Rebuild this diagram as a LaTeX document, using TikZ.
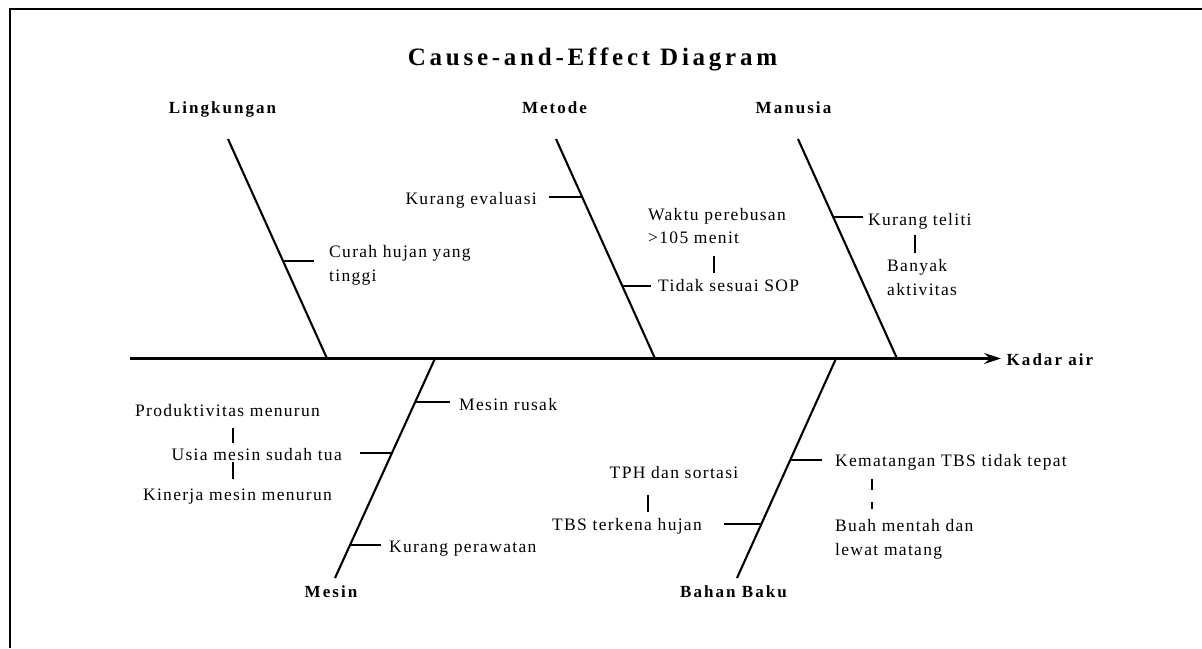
\documentclass[tikz,border=0pt]{standalone}
\usepackage{fontspec}
\setmainfont{Liberation Serif}
\newfontfamily\causefont[LetterSpace=7.5]{Liberation Serif}
\newfontfamily\labelfont[LetterSpace=12]{Liberation Serif}
\newfontfamily\titlefont[LetterSpace=15]{Liberation Serif}
\usetikzlibrary{arrows.meta,calc}

\begin{document}
\begin{tikzpicture}[x=1pt,y=-1pt,
  bone/.style={line width=2.1pt},
  tick/.style={line width=1.9pt},
  link/.style={line width=1.9pt},
  cause/.style={inner sep=0pt, font=\causefont\fontsize{17.5}{23.5}\selectfont},
  cat/.style={inner sep=0pt, font=\labelfont\bfseries\fontsize{17}{20}\selectfont},
  heading/.style={inner sep=0pt, font=\titlefont\bfseries\fontsize{25}{28}\selectfont},
]
\useasboundingbox (0,0) rectangle (1202,648);
% frame
\draw[line width=1.5pt] (10,648) -- (10,9) -- (1202,9);

% title and category labels
\node[heading, anchor=base] (title) at (592.5,65) {Cause-and-Effect Diagram};
\node[cat, anchor=base] (lingkungan) at (222.5,113) {Lingkungan};
\node[cat, anchor=base] (metode) at (554.5,113) {Metode};
\node[cat, anchor=base] (manusia) at (793.5,113) {Manusia};
\node[cat, anchor=base] (mesin) at (331,597.5) {Mesin};
\node[cat, anchor=base] (bahanbaku) at (733.5,597.5) {Bahan Baku};
\node[cat, anchor=base west] (kadar) at (1006.5,365.5) {Kadar air};

% spine
\coordinate (tail) at (130,358.5);
\coordinate (head) at (1001,358.5);
\draw[bone, -{Stealth[length=17pt,width=11pt,inset=6pt]}] (tail) -- (head);

% bones
\coordinate (Lt) at (228,139);  \coordinate (Lb) at (327,358.5);
\coordinate (Mt) at (556,139);  \coordinate (Mb) at (655,358.5);
\coordinate (Nt) at (798,139);  \coordinate (Nb) at (897,358.5);
\coordinate (Et) at (435,358.5);\coordinate (Eb) at (335,578);
\coordinate (Bt) at (836,358.5);\coordinate (Bb) at (737,578);
\draw[bone] (Lt) -- (Lb);
\draw[bone] (Mt) -- (Mb);
\draw[bone] (Nt) -- (Nb);
\draw[bone] (Et) -- (Eb);
\draw[bone] (Bt) -- (Bb);

% causes (multi-line nodes are placed by the baseline of their last line)
\node[cause, anchor=base west, align=left] (curah) at (329,281) {Curah hujan yang\\tinggi};
\node[cause, anchor=base east] (evaluasi) at (537,204) {Kurang evaluasi};
\node[cause, anchor=base west, align=left] (waktu) at (648,243.5) {Waktu perebusan\\>105 menit};
\node[cause, anchor=base west] (sop) at (658,291) {Tidak sesuai SOP};
\node[cause, anchor=base west] (teliti) at (868,225) {Kurang teliti};
\node[cause, anchor=base west, align=left] (aktivitas) at (887,295) {Banyak\\aktivitas};
\node[cause, anchor=base west] (rusak) at (459,410) {Mesin rusak};
\node[cause, anchor=base] (produktivitas) at (227.5,416.5) {Produktivitas menurun};
\node[cause, anchor=base east] (usia) at (342,460) {Usia mesin sudah tua};
\node[cause, anchor=base] (kinerja) at (237.5,500.5) {Kinerja mesin menurun};
\node[cause, anchor=base west] (perawatan) at (389,552) {Kurang perawatan};
\node[cause, anchor=base west] (kematangan) at (835,466.5) {Kematangan TBS tidak tepat};
\node[cause, anchor=base west, align=left] (buah) at (835,555) {Buah mentah dan\\lewat matang};
\node[cause, anchor=base] (tph) at (674,478.5) {TPH dan sortasi};
\node[cause, anchor=base east] (tbs) at (702,530) {TBS terkena hujan};

% ticks on the bones
\coordinate (c1) at ($(Lt)!0.557!(Lb)$); \coordinate (c1e) at ($(c1)+(31,0)$);
\coordinate (c2) at ($(Mt)!0.265!(Mb)$); \coordinate (c2e) at ($(c2)+(-33,0)$);
\coordinate (c3) at ($(Mt)!0.671!(Mb)$); \coordinate (c3e) at ($(c3)+(29,0)$);
\coordinate (c4) at ($(Nt)!0.356!(Nb)$); \coordinate (c4e) at ($(c4)+(30,0)$);
\coordinate (c5) at ($(Et)!0.200!(Eb)$); \coordinate (c5e) at ($(c5)+(35,0)$);
\coordinate (c6) at ($(Et)!0.432!(Eb)$); \coordinate (c6e) at ($(c6)+(-32,0)$);
\coordinate (c7) at ($(Et)!0.850!(Eb)$); \coordinate (c7e) at ($(c7)+(31,0)$);
\coordinate (c8) at ($(Bt)!0.464!(Bb)$); \coordinate (c8e) at ($(c8)+(32,0)$);
\coordinate (c9) at ($(Bt)!0.755!(Bb)$); \coordinate (c9e) at ($(c9)+(-37,0)$);
\foreach \c in {1,...,9} \draw[tick] (c\c) -- (c\c e);

% links between related causes
\coordinate (w1) at (714,256);   \coordinate (w2) at (714,273);
\coordinate (m1) at (915,235);   \coordinate (m2) at (915,253);
\coordinate (p1) at (233,428);   \coordinate (p2) at (233,443);
\coordinate (u1) at (233,462);   \coordinate (u2) at (233,479);
\coordinate (t1) at (648,495);   \coordinate (t2) at (648,512);
\coordinate (k1) at (872,479);   \coordinate (k2) at (872,509);
\draw[link] (w1) -- (w2);
\draw[link] (m1) -- (m2);
\draw[link] (p1) -- (p2);
\draw[link] (u1) -- (u2);
\draw[link] (t1) -- (t2);
\draw[link, dash pattern=on 11pt off 12pt] (k1) -- (k2);
\end{tikzpicture}
\end{document}
